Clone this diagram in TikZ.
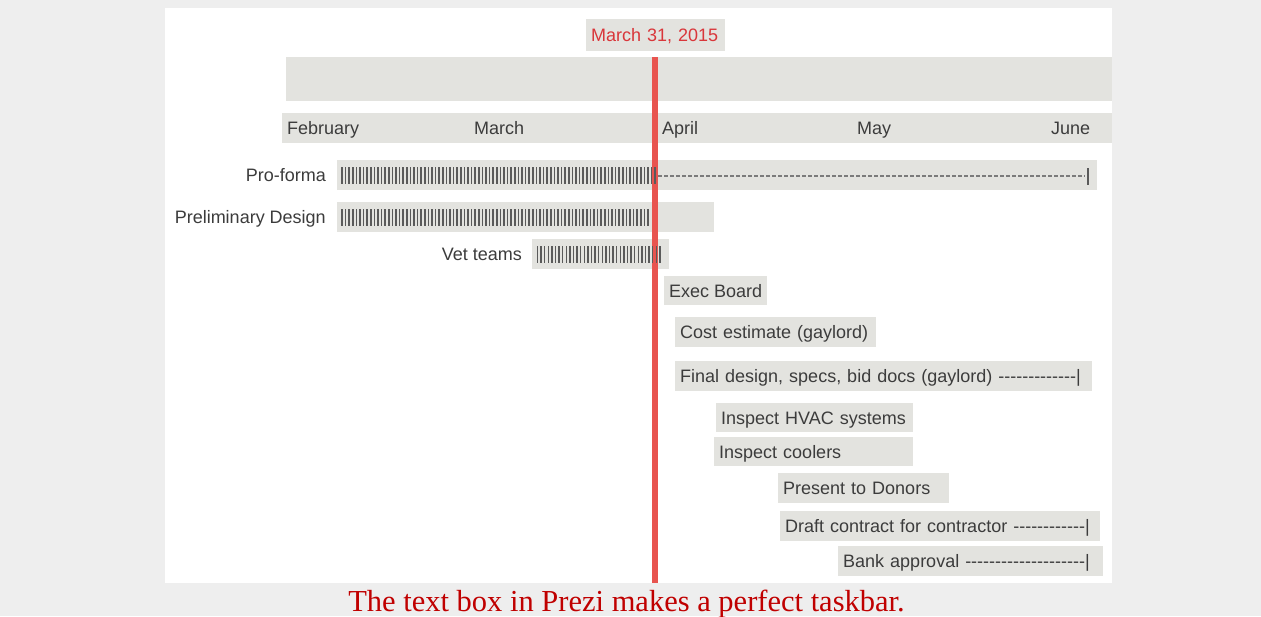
\documentclass[tikz,border=0pt]{standalone}
\usepackage{fontspec}
\setmainfont{Liberation Serif}
\newfontfamily\barfont{Liberation Sans}
\definecolor{pagegray}{HTML}{EEEEEE}
\definecolor{barfill}{HTML}{E3E3DF}
\definecolor{bartext}{HTML}{3C3C3C}
\definecolor{pipegray}{HTML}{5A5A5A}
\definecolor{todayred}{HTML}{E8544F}
\definecolor{datered}{HTML}{D9363A}
\definecolor{captionred}{HTML}{C00000}
\begin{document}
\begin{tikzpicture}[x=1pt, y=-1pt,
  bar/.style={fill=barfill, anchor=west, inner xsep=5pt, inner ysep=0pt, minimum height=30pt,
    text height=15pt, text depth=2pt, align=left, text=bartext, font=\barfont\fontsize{18}{20}\selectfont},
  lbl/.style={anchor=east, inner sep=0pt, text height=15pt, text depth=2pt, text=bartext,
    font=\barfont\fontsize{18}{20}\selectfont},
  month/.style={lbl, anchor=west},
  pipe/.style={draw=pipegray, line width=1.5pt},
  dashline/.style={draw=pipegray!80, line width=1.2pt, dash pattern=on 4pt off 2pt},
  today/.style={draw=todayred, line width=5.5pt}]
\useasboundingbox (0,0) rectangle (1261,616);
\fill[pagegray] (0,0) rectangle (1261,616);
\fill[white] (165,8) rectangle (1112,583);

\node[bar, text=datered, text width=129pt, minimum height=32pt] (date) at (586,35) {March 31, 2015};
\node[bar, text width=816pt, minimum height=44pt] (band) at (286,79) {};
\node[bar, text width=820pt] (months) at (282,128) {};
\node[month] (feb) at (287,128) {February};
\node[month] (mar) at (474,128) {March};
\node[month] (apr) at (662,128) {April};
\node[month] (may) at (857,128) {May};
\node[month] (jun) at (1051,128) {June};

\node[bar, text width=750pt] (proforma) at (337,175) {};
\node[lbl] (proforma label) at (326,175) {Pro-forma};
\node[bar, text width=367pt] (prelim) at (337,217) {};
\node[lbl] (prelim label) at (326,217) {Preliminary Design};
\node[bar, text width=127pt] (vet) at (532,254) {};
\node[lbl] (vet label) at (522,254) {Vet teams};

\node[bar, minimum height=29pt] (exec) at (664,290.5) {Exec Board};
\node[bar, text width=191pt] (cost) at (675,332) {Cost estimate (gaylord)};
\node[bar, text width=407pt] (final) at (675,376) {Final design, specs, bid docs (gaylord) -------------|};
\node[bar, text width=187pt, minimum height=29pt] (hvac) at (716,417.5) {Inspect HVAC systems};
\node[bar, text width=189pt, minimum height=29pt] (coolers) at (714,451.5) {Inspect coolers};
\node[bar, text width=161pt] (donors) at (778,488) {Present to Donors};
\node[bar, text width=310pt] (draft) at (780,525.5) {Draft contract for contractor ------------|};
\node[bar, text width=255pt] (bank) at (838,561) {Bank approval --------------------|};

\coordinate (today top) at (655,57);
\coordinate (today bottom) at (655,583);
\draw[today] (today top) -- (today bottom);

\foreach \x in {342,345.6,...,656} \draw[pipe] (\x,167) -- (\x,184);
\foreach \x in {342,345.6,...,651} \draw[pipe] (\x,209) -- (\x,226);
\foreach \x in {537.5,541.1,...,662} \draw[pipe] (\x,246) -- (\x,263);
\coordinate (dash start) at (658,176);
\coordinate (dash end) at (1085,176);
\draw[dashline] (dash start) -- (dash end);
\draw[pipe] (1088,168) -- (1088,185);

\node[anchor=base, inner sep=0pt, text=captionred, font=\fontsize{30.5}{34}\selectfont] (caption) at (626.5,611)
  {The text box in Prezi makes a perfect taskbar.};
\end{tikzpicture}
\end{document}
